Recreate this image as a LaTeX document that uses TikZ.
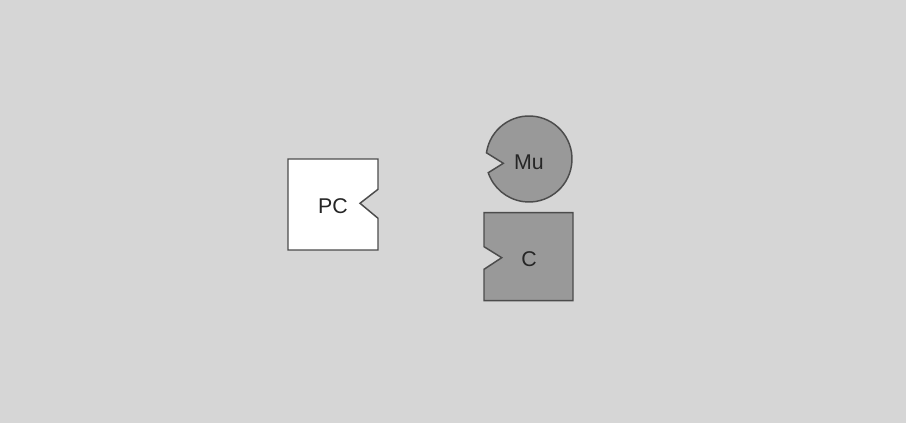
\documentclass[tikz,border=0pt]{standalone}
\usepackage{fontspec}
\setmainfont{Liberation Sans}
\usetikzlibrary{calc}
\definecolor{bg}{gray}{0.84}
\definecolor{piecefill}{gray}{0.60}
\definecolor{edge}{gray}{0.30}
\begin{document}
\begin{tikzpicture}[x=0.75pt,y=0.75pt,
  piece/.style={draw=edge,line width=1.1pt,line join=miter},
  lbl/.style={font=\fontsize{16}{19}\selectfont,text=black!85,inner sep=0pt}]
\useasboundingbox (0,0) rectangle (906,423);
\fill[bg] (0,0) rectangle (906,423);
% PC block (white, notch on right)
\draw[piece,fill=white] (288,264) -- (378,264) -- (378,233.7) -- (360,219.7) -- (378,204.7) -- (378,173) -- (288,173) -- cycle;
\node[lbl] (pc) at (333,217) {PC};
% Mu circle with notch on left
\coordinate (mc) at (529,264);
\draw[piece,fill=piecefill] (503.3,259.7) -- ($(mc)+(171.7:32.25pt)$) arc[start angle=171.7,end angle=-161.4,radius=32.25pt] -- cycle;
\node[lbl] (mu) at (529,261) {Mu};
% C block with notch on left
\draw[piece,fill=piecefill] (484,210.3) -- (573,210.3) -- (573,122.3) -- (484,122.3) -- (484,153.7) -- (501.7,165.3) -- (484,176.3) -- cycle;
\node[lbl] (c) at (529,164) {C};
\end{tikzpicture}
\end{document}
